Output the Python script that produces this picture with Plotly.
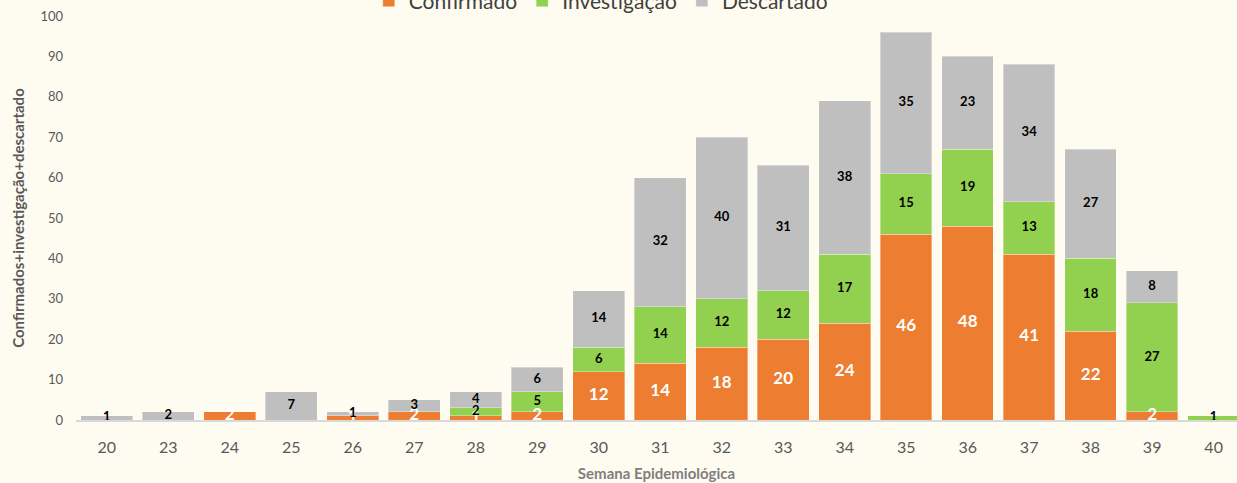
import plotly.graph_objects as go

semanas = ["20", "23", "24", "25", "26", "27", "28", "29", "30", "31", "32",
           "33", "34", "35", "36", "37", "38", "39", "40"]
confirmado = [None, None, 2, None, 1, 2, 1, 2, 12, 14, 18, 20, 24, 46, 48, 41, 22, 2, None]
investigacao = [None, None, None, None, None, None, 2, 5, 6, 14, 12, 12, 17, 15, 19, 13, 18, 27, 1]
descartado = [1, 2, None, 7, 1, 3, 4, 6, 14, 32, 40, 31, 38, 35, 23, 34, 27, 8, None]

FONT = "Lato, 'Open Sans', sans-serif"
BG = "#FEFCF1"

series = [
    ("Confirmado", confirmado, "#ED7D31", "white", 17),
    ("Investigação", investigacao, "#92D050", "black", 13),
    ("Descartado", descartado, "#BFBFBF", "black", 13),
]

fig = go.Figure()
base = [0] * len(semanas)
label_traces = []
for name, vals, color, tcolor, tsize in series:
    fig.add_trace(go.Bar(name=name, x=semanas, y=vals, marker_color=color,
                         marker_line=dict(width=1, color="rgba(255,255,255,0.35)")))
    lx, ly, lt = [], [], []
    for i, v in enumerate(vals):
        if v:
            lx.append(semanas[i])
            ly.append(base[i] + v / 2)
            lt.append(str(v))
            base[i] += v
    label_traces.append(go.Scatter(
        x=lx, y=ly, text=lt, mode="text", showlegend=False, hoverinfo="skip",
        textposition="middle center", cliponaxis=False,
        textfont=dict(color=tcolor, size=tsize, family=FONT, weight="bold"),
    ))
for t in label_traces:
    fig.add_trace(t)

fig.update_layout(
    barmode="stack",
    bargap=0.16,
    width=1237, height=483,
    margin=dict(l=76, r=0, t=16, b=63, autoexpand=False),
    paper_bgcolor=BG, plot_bgcolor=BG,
    font=dict(family=FONT, color="#595959"),
    showlegend=True,
    legend=dict(orientation="h", x=0.452, xanchor="center", y=1.037, yanchor="middle",
                traceorder="normal",
                font=dict(size=21, color="#404040"), bgcolor="rgba(0,0,0,0)"),
    xaxis=dict(
        type="category", range=[-0.5, 18.38],
        showline=True, linecolor="#D9D9D9", linewidth=1.5,
        ticks="", ticklabelstandoff=12, tickfont=dict(size=16, color="#595959"),
        title=dict(text="<b>Semana Epidemiológica</b>", font=dict(size=15, color="#7F7F7F"), standoff=14),
    ),
    yaxis=dict(
        range=[0, 100], dtick=10, showgrid=False, zeroline=False,
        ticks="", ticklabelstandoff=12, tickfont=dict(size=13, color="#595959"),
        title=dict(text="<b>Confirmados+investigação+descartado</b>", font=dict(size=15, color="#595959"), standoff=12),
    ),
)

fig.write_html(
    "out.html",
    config={"displayModeBar": False},
    post_script="document.body.style.margin='0';document.body.style.padding='0';"
                "document.body.style.overflow='hidden';document.body.style.background='" + BG + "';",
)
